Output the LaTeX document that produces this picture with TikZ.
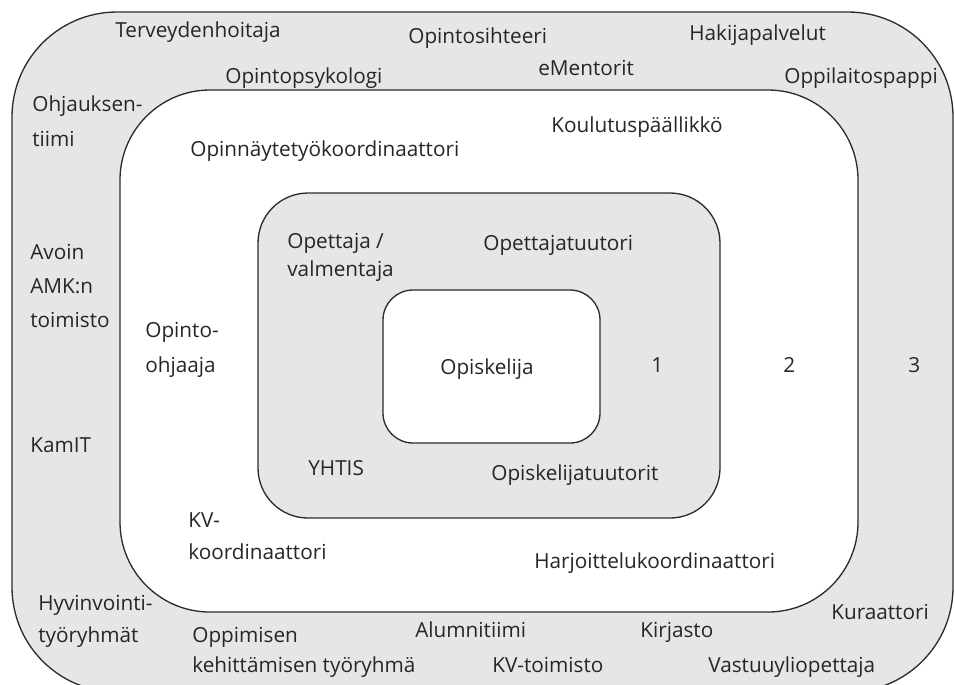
\documentclass[tikz,border=0pt]{standalone}
\usepackage{fontspec}
\setmainfont{Open Sans}
\definecolor{ringgray}{HTML}{E6E6E6}
\definecolor{ringline}{HTML}{2B2B2B}
\usetikzlibrary{positioning}

\tikzset{
  ring/.style={draw=ringline, line width=0.75pt},
  lbl/.style={anchor=base west, inner sep=0pt, align=left,
    font=\fontsize{11.8}{#1}\selectfont, text=black!85},
  lbl/.default=14pt
}

\begin{document}
\begin{tikzpicture}[x=0.02cm, y=-0.02cm]
  \useasboundingbox (0,0) rectangle (955,684);
  % Rings, outermost first
  \draw[ring, fill=ringgray, rounded corners=2.1cm] (12,12) rectangle (953,692);
  \draw[ring, fill=white, rounded corners=1.8cm] (120,90) rectangle (858,612);
  \draw[ring, fill=ringgray, rounded corners=1cm] (258,193) rectangle (720,518);
  \draw[ring, fill=white, rounded corners=0.6cm] (383,290) rectangle (600,443);

  % Ring 3 (multi-line labels sit on their last line)
  \node[lbl] (terv) at (115,37) {Terveydenhoitaja};
  \node[lbl] (osiht) at (408,43) {Opintosihteeri};
  \node[lbl] (haki) at (689,40) {Hakijapalvelut};
  \node[lbl] (opsyk) at (225,83) {Opintopsykologi};
  \node[lbl] (ement) at (538,75) {eMentorit};
  \node[lbl] (pappi) at (784,83) {Oppilaitospappi};
  \node[lbl=19.9pt] (ohjt) at (32,146) {Ohjauksen-\\tiimi};
  \node[lbl=19.3pt] (avoin) at (30,327) {Avoin\\AMK:n\\toimisto};
  \node[lbl] (kamit) at (30,452) {KamIT};
  \node[lbl=18.2pt] (hyvi) at (38,642) {Hyvinvointi-\\työryhmät};
  \node[lbl=17pt] (oppim) at (192,672) {Oppimisen\\kehittämisen työryhmä};
  \node[lbl] (alumni) at (415,637) {Alumnitiimi};
  \node[lbl] (kirj) at (640,637) {Kirjasto};
  \node[lbl] (kura) at (831,619) {Kuraattori};
  \node[lbl] (kvtoim) at (492,672) {KV-toimisto};
  \node[lbl] (vastuu) at (708,672) {Vastuuyliopettaja};
  \node[lbl] (n3) at (908,372) {3};

  % Ring 2
  \node[lbl] (kpaal) at (551,132) {Koulutuspäällikkö};
  \node[lbl] (opinn) at (190,156) {Opinnäytetyökoordinaattori};
  \node[lbl=19.9pt] (ohjaaja) at (145,372) {Opinto-\\ohjaaja};
  \node[lbl=18.2pt] (kvkoord) at (188,559) {KV-\\koordinaattori};
  \node[lbl] (harj) at (534,568) {Harjoittelukoordinaattori};
  \node[lbl] (n2) at (783,372) {2};

  % Ring 1
  \node[lbl=15.9pt] (opett) at (287,276) {Opettaja /\\valmentaja};
  \node[lbl] (otuut) at (483,250) {Opettajatuutori};
  \node[lbl] (yhtis) at (308,475) {YHTIS};
  \node[lbl] (istuut) at (491,480) {Opiskelijatuutorit};
  \node[lbl] (n1) at (651,372) {1};

  % Centre
  \node[lbl] (opisk) at (440,374) {Opiskelija};
\end{tikzpicture}
\end{document}
